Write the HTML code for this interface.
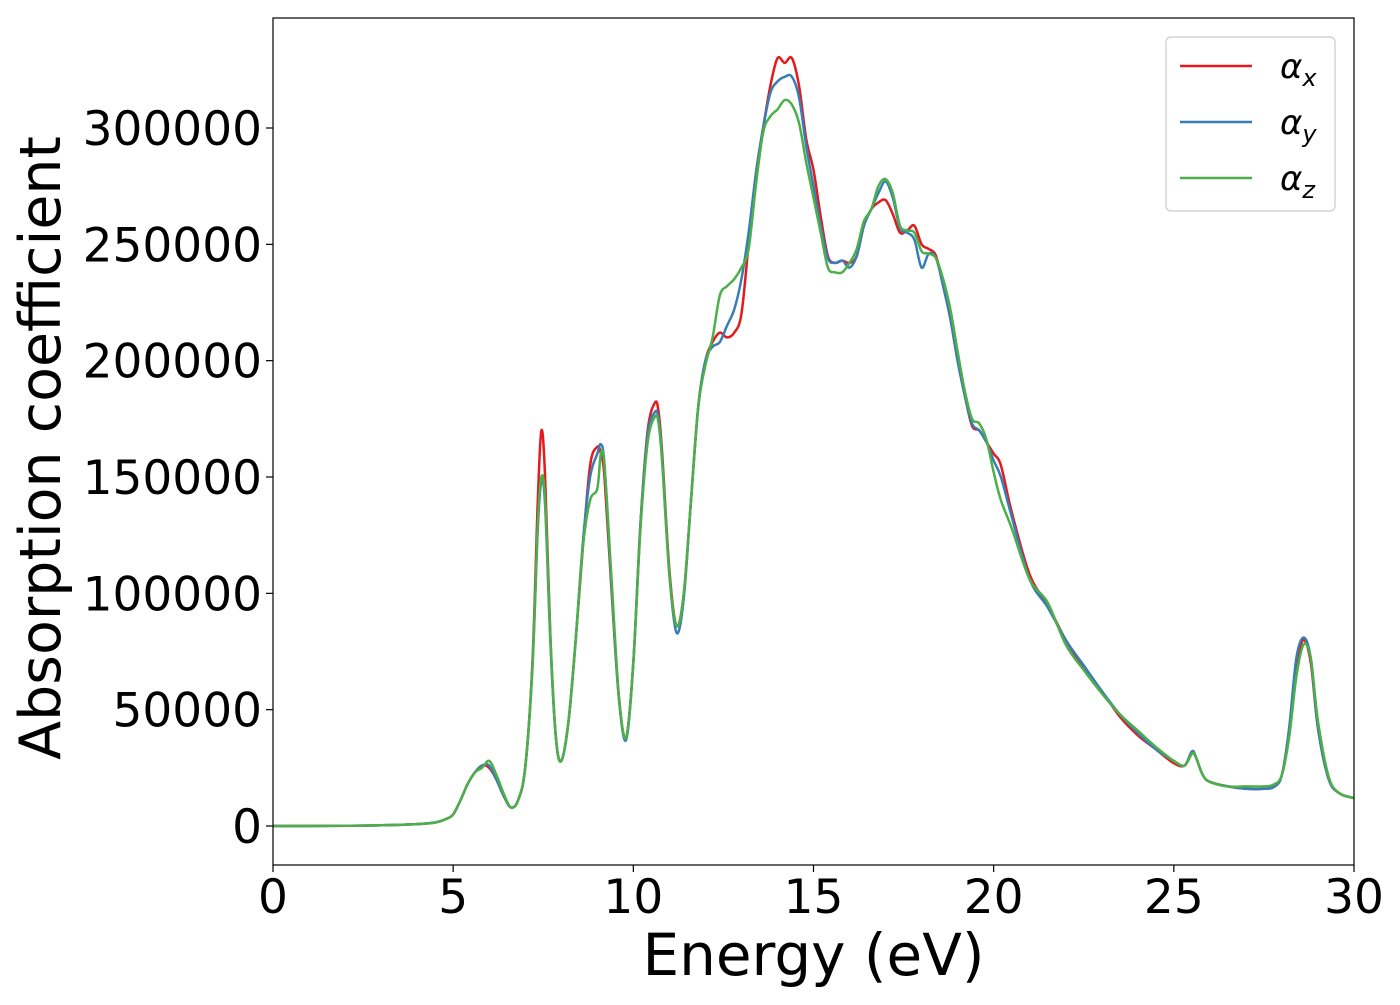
<!DOCTYPE html>
<html><head><meta charset="utf-8"><style>
body{margin:0;background:#fff;}
svg text{font-family:"DejaVu Sans","Liberation Sans",sans-serif;}
</style></head><body>
<svg id="chart" width="1400" height="1000" xmlns="http://www.w3.org/2000/svg"></svg>
<script>
const energies=[0,1,2,3,4,4.5,4.8,5.0,5.2,5.4,5.6,5.8,6.0,6.2,6.4,6.6,6.8,7.0,7.2,7.35,7.45,7.55,7.7,7.85,8.0,8.2,8.4,8.6,8.8,9.0,9.1,9.2,9.4,9.6,9.8,10.0,10.2,10.4,10.6,10.7,10.8,11.0,11.2,11.4,11.6,11.8,12.0,12.2,12.4,12.6,12.8,13.0,13.2,13.4,13.6,13.8,14.0,14.2,14.4,14.6,14.8,15.0,15.2,15.4,15.6,15.8,16.0,16.2,16.4,16.6,16.8,17.0,17.2,17.4,17.6,17.8,18.0,18.2,18.4,18.6,18.8,19.0,19.2,19.4,19.6,19.8,20.0,20.2,20.5,21,21.5,22,22.5,23,23.5,24,24.5,25,25.3,25.5,25.6,25.8,26,26.5,27,27.5,27.8,28.0,28.2,28.4,28.6,28.8,29,29.3,29.6,30];
const alphaX=[0,0,0.1,0.3,0.8,1.5,3,5,11,18,23,26,25,20,13,8,11,25,70,140,170,150,80,38,28,45,80,120,155,163,160,150,100,55,38,70,130,170,182,178,160,110,86,100,140,180,200,208,212,210,212,220,250,280,300,318,330,328,330,318,295,282,262,245,242,243,242,245,258,265,268,269,263,255,256,258,250,248,245,232,218,200,185,172,170,165,160,155,135,108,95,80,68,58,47,39,33,27,26,32,30,22,19,17,16,16,17,22,40,68,80,70,42,20,14,12];
const alphaY=[0,0,0.1,0.3,0.8,1.5,3,5,11,18,23,26,26,20,13,8,11,25,68,128,148,138,78,38,28,45,80,122,150,160,164,155,102,55,37,70,130,168,178,175,158,108,83,98,140,180,200,206,208,215,222,235,255,280,300,315,320,322,322,313,292,275,258,244,242,243,240,245,258,265,272,277,270,257,255,252,240,246,244,232,218,200,185,173,170,165,157,150,133,106,94,80,69,58,48,40,33,28,26,32,30,22,19,17,16,16,17,22,42,72,81,72,42,20,14,12];
const alphaZ=[0,0,0.1,0.3,0.8,1.5,3,5,11,18,23,25,28,22,14,8,11,25,68,130,150,140,80,38,28,45,80,120,140,145,160,155,105,56,38,70,128,165,176,173,156,108,86,100,140,180,198,210,228,232,235,240,248,275,298,305,308,312,310,302,285,270,255,240,238,238,242,248,260,265,275,278,272,258,256,255,247,246,244,235,222,204,187,175,173,166,152,140,128,106,96,78,67,57,48,41,34,28,26,31,30,22,19,17,17,17,18,22,38,64,78,72,45,21,14,12];
const xTicks=[0,5,10,15,20,25,30];
const yTicks=[0,50000,100000,150000,200000,250000,300000];
const NS="http://www.w3.org/2000/svg";
const svg=document.getElementById('chart');
const L=273,R=1354,T=18,B=865;
const xs=v=>L+(v/30)*(R-L);
const ys=v=>826-v*(698/300000);
function mk(tag,attrs,parent){const e=document.createElementNS(NS,tag);for(const k in attrs)e.setAttribute(k,attrs[k]);(parent||svg).appendChild(e);return e;}
function pathFor(vals){
  const pts=energies.map((e,i)=>[xs(e),ys(vals[i]*1000)]);
  let d='M'+pts[0][0].toFixed(1)+','+pts[0][1].toFixed(1);
  for(let i=0;i<pts.length-1;i++){
    const p0=pts[Math.max(0,i-1)],p1=pts[i],p2=pts[i+1],p3=pts[Math.min(pts.length-1,i+2)];
    const c1=[p1[0]+(p2[0]-p0[0])/6,p1[1]+(p2[1]-p0[1])/6];
    const c2=[p2[0]-(p3[0]-p1[0])/6,p2[1]-(p3[1]-p1[1])/6];
    d+='C'+c1[0].toFixed(1)+','+c1[1].toFixed(1)+' '+c2[0].toFixed(1)+','+c2[1].toFixed(1)+' '+p2[0].toFixed(1)+','+p2[1].toFixed(1);
  }
  return d;
}
const clip=mk('clipPath',{id:'pc'});mk('rect',{x:L,y:T,width:R-L,height:B-T},clip);
const series=[['alpha-x-line',alphaX,'#e41a1c'],['alpha-y-line',alphaY,'#377eb8'],['alpha-z-line',alphaZ,'#4daf4a']];
series.forEach(s=>{
  const p=mk('path',{d:pathFor(s[1]),fill:'none',stroke:s[2],'stroke-width':2.5,'clip-path':'url(#pc)'});
  
  
});
const frame=mk('rect',{x:L,y:T,width:R-L,height:B-T,fill:'none',stroke:'#000','stroke-width':1.2});


xTicks.forEach(t=>{
  mk('line',{x1:xs(t),x2:xs(t),y1:B,y2:B+7,stroke:'#000','stroke-width':1.2});
  const tx=mk('text',{x:xs(t),y:B+48,'font-size':47,'text-anchor':'middle'});tx.textContent=t;
  
  
});
yTicks.forEach(t=>{
  mk('line',{x1:L-7,x2:L,y1:ys(t),y2:ys(t),stroke:'#000','stroke-width':1.2});
  const tx=mk('text',{x:L-11,y:ys(t)+17,'font-size':47,'text-anchor':'end'});tx.textContent=t;
  
  
});
const xt=mk('text',{x:(L+R)/2,y:975,'font-size':58,'text-anchor':'middle'});xt.textContent='Energy (eV)';


const yt=mk('text',{x:0,y:0,'font-size':57,'text-anchor':'middle',transform:'translate(60,448) rotate(-90)'});yt.textContent='Absorption coefficient';


const lg=mk('g',{});


mk('rect',{x:1166,y:37,width:169,height:174,rx:5,fill:'#fff',stroke:'#ccc','stroke-width':1.2},lg);
const subs=['x','y','z'];
series.forEach((s,i)=>{
  const y=66+i*56;
  mk('line',{x1:1180,x2:1252,y1:y,y2:y,stroke:s[2],'stroke-width':2.5},lg);
  const t=mk('text',{x:1280,y:y+12,'font-size':34,'font-style':'italic'},lg);
  t.textContent='α';
  const sb=mk('tspan',{'font-size':24,dy:8},t);sb.textContent=subs[i];
  
  
});
</script>
</body></html>
